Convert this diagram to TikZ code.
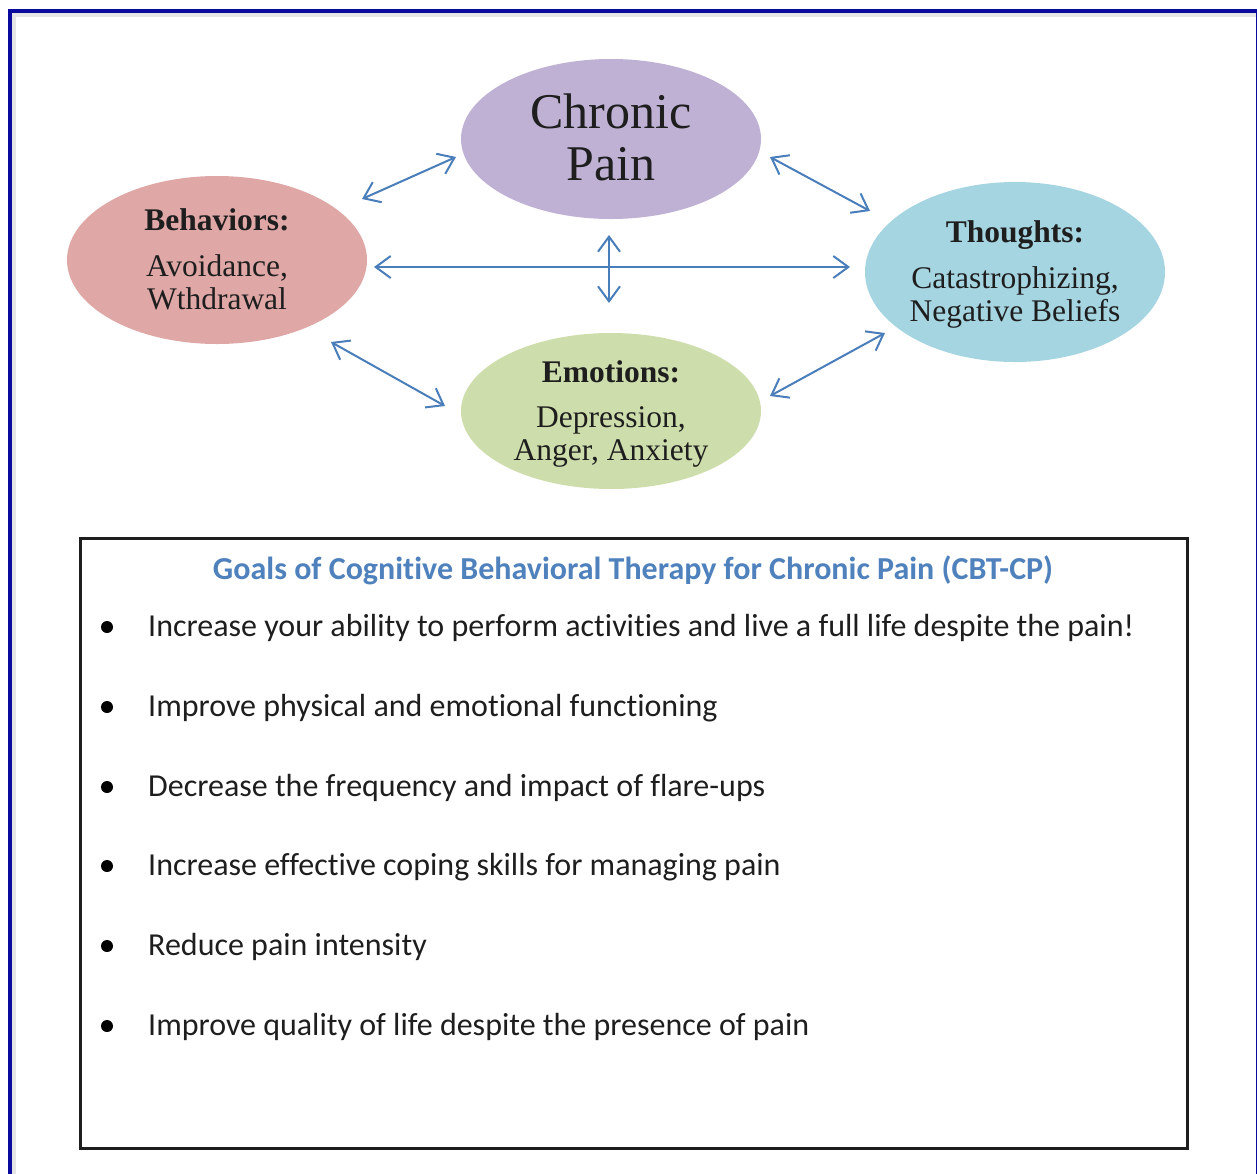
\documentclass[tikz,border=0pt]{standalone}
\usepackage{fontspec}
\setmainfont{Liberation Serif}
\newfontfamily\calib[Ligatures=NoCommon]{Carlito}
\usetikzlibrary{shapes.geometric,arrows.meta}
\definecolor{frameblue}{HTML}{0A0A9E}
\definecolor{arrowblue}{HTML}{4A7EBB}
\definecolor{cpain}{HTML}{BFB1D4}
\definecolor{cbeh}{HTML}{DFA7A6}
\definecolor{cthou}{HTML}{A6D5E2}
\definecolor{cemo}{HTML}{CDDDAB}
\definecolor{ttl}{HTML}{4F81BD}
\definecolor{txt}{HTML}{1E1E1E}
\tikzset{
  blob/.style={ellipse,draw=none,inner sep=0pt},
  head/.style={font=\fontsize{31.5}{31.5}\selectfont\bfseries,text=txt,inner sep=0pt},
  body/.style={font=\fontsize{31.5}{33}\selectfont,text=txt,inner sep=0pt,align=center},
  link/.style={draw=arrowblue,line width=2pt,{Straight Barb[length=15pt,width=22pt,line width=2pt]}-{Straight Barb[length=15pt,width=22pt,line width=2pt]}},
  goal/.style={anchor=west,inner sep=0pt,font=\calib\fontsize{32}{34}\selectfont,text=txt},
  dot/.style={circle,fill=black,inner sep=0pt,minimum size=12pt}
}
\begin{document}
\begin{tikzpicture}[x=1pt,y=-1pt]
\useasboundingbox (0,0) rectangle (1257,1173);
\clip (0,0) rectangle (1257,1173);
% frame with light shadow
\draw[gray!20,line width=4pt] (14,1200) -- (14,15) -- (1260,15);
\draw[frameblue,line width=4pt] (10,1200) -- (10,11) -- (1258,11) -- (1258,1200);
% ellipses
\node[blob,fill=cpain,minimum width=300pt,minimum height=160pt] (pain) at (611,139) {};
\node[blob,fill=cbeh,minimum width=300pt,minimum height=168pt] (beh) at (217,260) {};
\node[blob,fill=cthou,minimum width=300pt,minimum height=180pt] (thou) at (1015,272) {};
\node[blob,fill=cemo,minimum width=300pt,minimum height=156pt] (emo) at (611,411) {};
% texts
\node[body,font=\fontsize{50}{52}\selectfont] (paint) at (611,137) {Chronic\\Pain};
\node[head] (behh) at (217,220) {Behaviors:};
\node[body] (behb) at (217,282) {Avoidance,\\Wthdrawal};
\node[head] (thouh) at (1015,235) {Thoughts:};
\node[body] (thoub) at (1015,297) {Catastrophizing,\\Negative Beliefs};
\node[head] (emoh) at (611,372) {Emotions:};
\node[body] (emob) at (611,437) {Depression,\\Anger, Anxiety};
% arrow ends
\coordinate (a1) at (362,199); \coordinate (a2) at (456,157);
\coordinate (b1) at (770,157); \coordinate (b2) at (870,211);
\coordinate (c1) at (374,267); \coordinate (c2) at (850,267);
\coordinate (d1) at (609,235); \coordinate (d2) at (609,303);
\coordinate (e1) at (331,342); \coordinate (e2) at (445,406);
\coordinate (f1) at (770,396); \coordinate (f2) at (885,333);
\draw[link] (a1) -- (a2);
\draw[link] (b1) -- (b2);
\draw[link] (c1) -- (c2);
\draw[link] (d1) -- (d2);
\draw[link] (e1) -- (e2);
\draw[link] (f1) -- (f2);
% goals box
\node[draw=txt,line width=3pt,minimum width=1107pt,minimum height=610pt,anchor=north west,inner sep=0pt] (box) at (79,537) {};
\node[inner sep=0pt,font=\calib\bfseries\fontsize{32}{34}\selectfont,text=ttl] (title) at (633,570) {Goals of Cognitive Behavioral Therapy for Chronic Pain (CBT-CP)};
\foreach \i/\yy/\t in {1/626/{Increase your ability to perform activities and live a full life despite the pain!},
  2/706/{Improve physical and emotional functioning},
  3/786/{Decrease the frequency and impact of flare-ups},
  4/865/{Increase effective coping skills for managing pain},
  5/945/{Reduce pain intensity},
  6/1025/{Improve quality of life despite the presence of pain}}{
  \node[dot] (b\i) at (107,\yy+1) {};
  \node[goal] (g\i) at (148,\yy+2) {\t};
}
\end{tikzpicture}
\end{document}
